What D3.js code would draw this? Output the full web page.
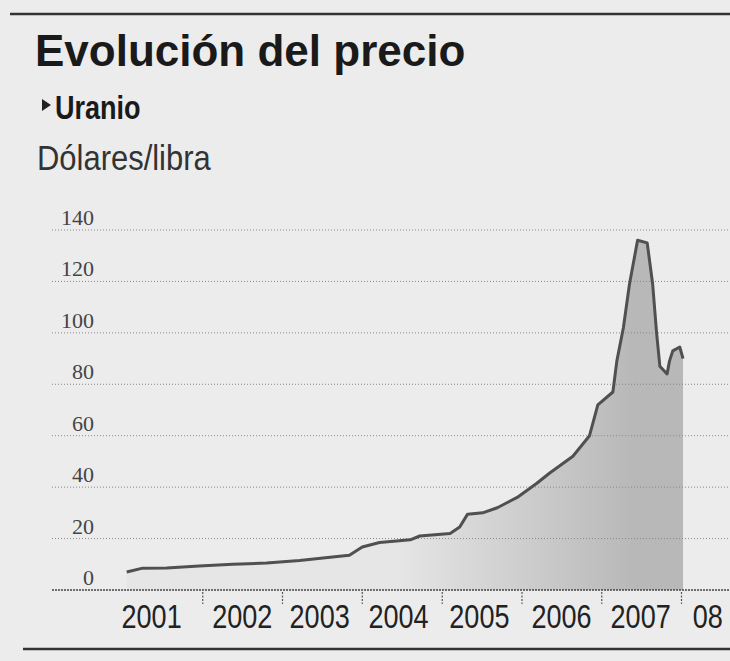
<!DOCTYPE html>
<html>
<head>
<meta charset="utf-8">
<script src="https://cdnjs.cloudflare.com/ajax/libs/d3/7.8.5/d3.min.js"></script>
<style>
  body { margin: 0; background: #ececec; }
  svg { display: block; }
  text { font-family: "Liberation Sans", Arial, sans-serif; }
  .grid text { font-family: "Liberation Serif", "Times New Roman", serif; }
</style>
</head>
<body>
<svg id="chart" width="730" height="661"></svg>
<script>
// uranium spot price, dollars per pound
var priceDates = [
  "2001-01-18", "2001-04-01", "2001-07-20", "2001-12-15", "2002-05-18", "2002-10-20",
  "2003-03-20", "2003-08-18", "2003-11-03", "2004-01-01", "2004-03-20", "2004-08-08",
  "2004-09-20", "2005-02-06", "2005-03-22", "2005-04-27", "2005-07-05", "2005-09-10",
  "2005-12-10", "2006-03-10", "2006-05-08", "2006-08-22", "2006-11-06", "2006-12-14",
  "2007-02-21", "2007-03-11", "2007-04-10", "2007-05-08", "2007-06-14", "2007-07-28",
  "2007-08-22", "2007-09-09", "2007-09-24", "2007-10-27", "2007-11-07", "2007-11-22",
  "2007-12-24", "2008-01-08"
];
var priceValues = [
  7, 8.5, 8.6, 9.3, 10, 10.5,
  11.5, 12.8, 13.5, 16.7, 18.5, 19.5,
  21, 22, 24.5, 29.5, 30, 32,
  36, 41.5, 45.5, 52, 60, 72,
  77, 89, 102, 119, 136, 135,
  119, 100, 87, 84, 89, 93,
  94.5, 90
];
var yTicks = [0, 20, 40, 60, 80, 100, 120, 140];
var yearTicks = ["2002-01-01", "2003-01-01", "2004-01-01", "2005-01-01", "2006-01-01", "2007-01-01", "2008-01-01"];
var yearLabels = ["2001", "2002", "2003", "2004", "2005", "2006", "2007", "08"];
var yearLabelDates = ["2001-05-12", "2002-07-01", "2003-06-20", "2004-06-15", "2005-06-20", "2006-07-01", "2007-06-28", "2008-04-30"];

var parseDate = d3.timeParse("%Y-%m-%d");
var data = priceDates.map(function(d, i) {
  return { date: parseDate(d), value: priceValues[i] };
});

var svg = d3.select("#chart");

var x = d3.scaleTime()
  .domain([parseDate("2001-01-01"), parseDate("2008-01-01")])
  .range([123, 681.5]);
var y = d3.scaleLinear()
  .domain([0, 140])
  .range([590, 230]);

/**
 * condensed text: no narrow face is installed, so squeeze it horizontally
 */
function narrowText(sel, px, py, sx) {
  return sel.attr("x", 0).attr("y", 0)
    .attr("transform", "translate(" + px + "," + py + ") scale(" + sx + ",1)");
}

var defs = svg.append("defs");
var grad = defs.append("linearGradient")
  .attr("id", "areaFill")
  .attr("gradientUnits", "userSpaceOnUse")
  .attr("x1", x(parseDate("2004-06-01"))).attr("y1", 0)
  .attr("x2", x(parseDate("2007-06-01"))).attr("y2", 0);
grad.append("stop").attr("offset", "0%").attr("stop-color", "#e6e6e6");
grad.append("stop").attr("offset", "100%").attr("stop-color", "#b8b8b8");

// background of the scan
svg.append("rect")
  .attr("width", 730).attr("height", 661)
  .attr("fill", "#ececec");

// top rule
svg.append("line")
  .attr("x1", 10).attr("x2", 730)
  .attr("y1", 14).attr("y2", 14)
  .attr("stroke", "#333").attr("stroke-width", 2.5);

svg.append("text")
  .attr("x", 35).attr("y", 66)
  .attr("font-weight", "bold")
  .attr("font-size", 44)
  .attr("fill", "#1a1a1a")
  .text("Evolución del precio");

svg.append("path")
  .attr("d", "M42,99 L51,105 L42,111 Z")
  .attr("fill", "#222");

svg.append("text")
  .call(narrowText, 55, 119, 0.82)
  .attr("font-weight", "bold")
  .attr("font-size", 33)
  .attr("fill", "#1a1a1a")
  .text("Uranio");

svg.append("text")
  .call(narrowText, 37, 170, 0.86)
  .attr("font-size", 36)
  .attr("fill", "#333")
  .text("Dólares/libra");

// area under the line
var area = d3.area()
  .x(function(d) { return x(d.date); })
  .y0(y(0))
  .y1(function(d) { return y(d.value); });

svg.append("path")
  .datum(data)
  .attr("d", area)
  .attr("fill", "url(#areaFill)");

// horizontal grid
var grid = svg.append("g").attr("class", "grid");
grid.selectAll("line")
  .data(yTicks.filter(function(d) { return d > 0; }))
  .enter().append("line")
  .attr("x1", 52).attr("x2", 730)
  .attr("y1", function(d) { return y(d); })
  .attr("y2", function(d) { return y(d); })
  .attr("stroke", "#888")
  .attr("stroke-width", 1)
  .attr("stroke-dasharray", "1,2");

grid.selectAll("text")
  .data(yTicks)
  .enter().append("text")
  .attr("x", 94)
  .attr("y", function(d) { return y(d) - 5; })
  .attr("text-anchor", "end")
  .attr("font-size", 22)
  .attr("fill", "#444")
  .text(function(d) { return d; });

// the price line
var line = d3.line()
  .x(function(d) { return x(d.date); })
  .y(function(d) { return y(d.value); });

svg.append("path")
  .datum(data)
  .attr("d", line)
  .attr("fill", "none")
  .attr("stroke", "#505050")
  .attr("stroke-width", 3)
  .attr("stroke-linejoin", "round");

// x axis baseline
svg.append("line")
  .attr("x1", 52).attr("x2", 730)
  .attr("y1", y(0)).attr("y2", y(0))
  .attr("stroke", "#444")
  .attr("stroke-width", 1.6)
  .attr("stroke-dasharray", "2,1");

var xAxis = svg.append("g").attr("class", "x-axis");
xAxis.selectAll("line")
  .data(yearTicks.map(parseDate))
  .enter().append("line")
  .attr("x1", function(d) { return x(d); })
  .attr("x2", function(d) { return x(d); })
  .attr("y1", y(0) + 2).attr("y2", y(0) + 14)
  .attr("stroke", "#555")
  .attr("stroke-width", 1.2)
  .attr("stroke-dasharray", "2,1.5");

xAxis.selectAll("text")
  .data(yearLabels)
  .enter().append("text")
  .each(function(d, i) {
    d3.select(this).call(narrowText, x(parseDate(yearLabelDates[i])), 628, 0.82);
  })
  .attr("text-anchor", "middle")
  .attr("font-size", 33)
  .attr("fill", "#222")
  .text(function(d) { return d; });

// bottom rule
svg.append("line")
  .attr("x1", 23).attr("x2", 730)
  .attr("y1", 649).attr("y2", 649)
  .attr("stroke", "#333").attr("stroke-width", 2.5);
</script>
</body>
</html>
